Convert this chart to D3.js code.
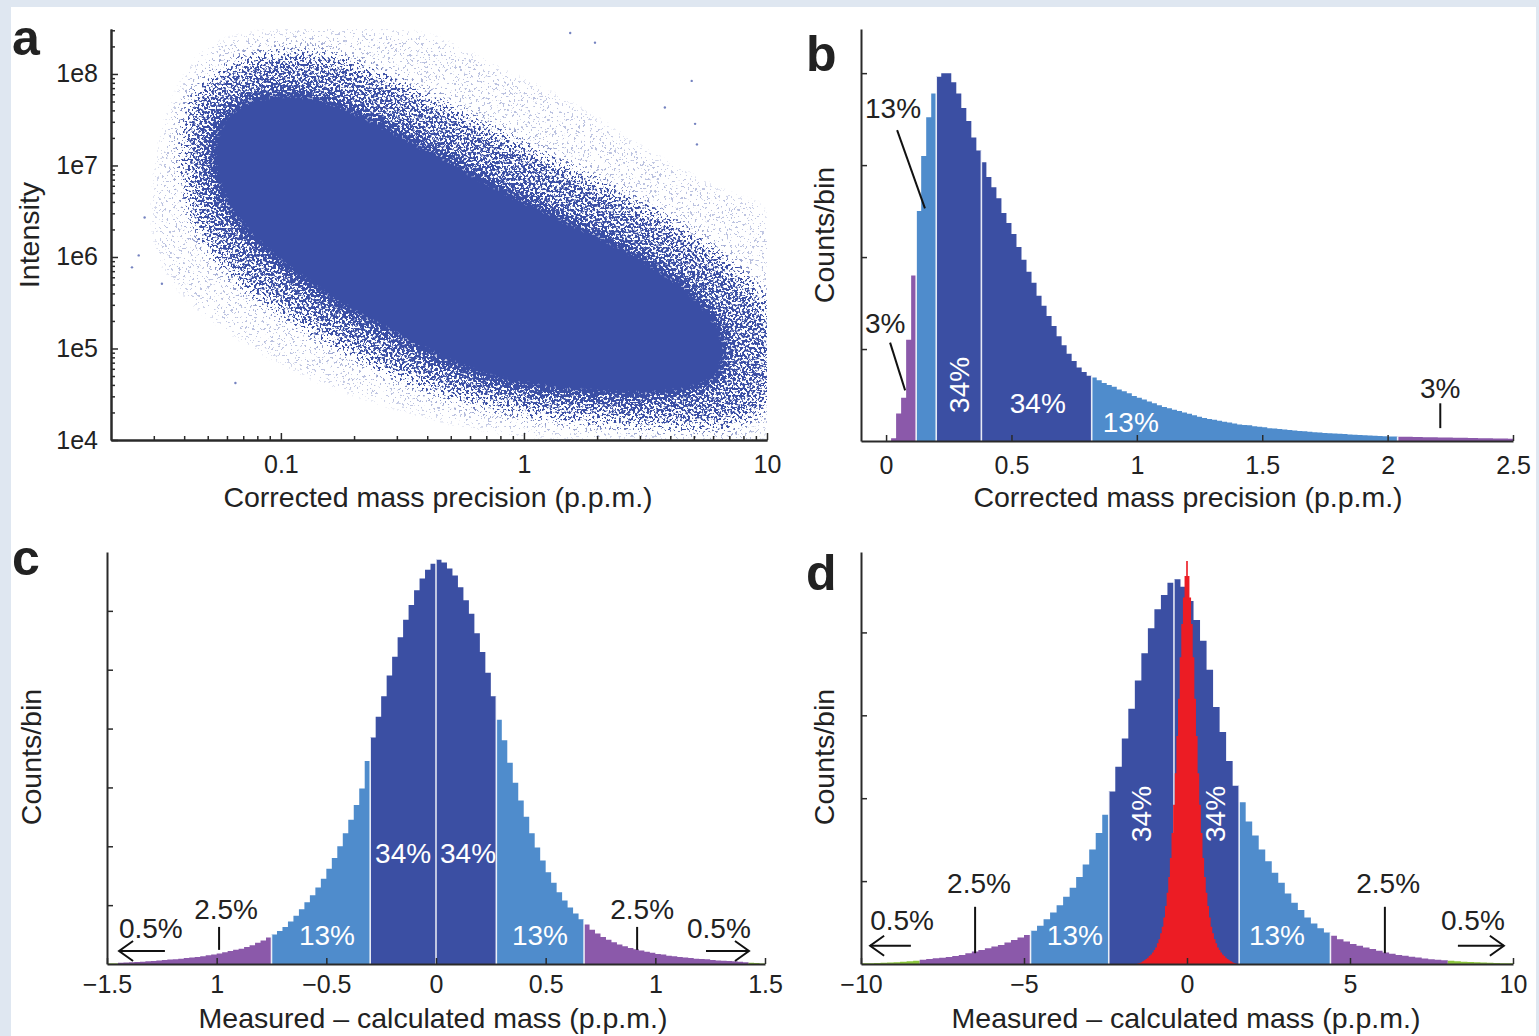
<!DOCTYPE html>
<html>
<head>
<meta charset="utf-8">
<script src="https://cdn.jsdelivr.net/npm/d3@7"></script>
<style>
  html, body { margin: 0; padding: 0; background: #dfe7f1; }
  svg { display: block; }
  text { font-family: "Liberation Sans", Arial, Helvetica, sans-serif; fill: #222; }
</style>
</head>
<body>
<svg id="fig" width="1539" height="1036"></svg>
<script>
// ---------------- Panel a: intensity vs corrected mass precision ----------------
// Density envelopes of the point cloud, as [precision (p.p.m.), intensity] vertices
const cloudOuter = [
  [0.0289, 1.18e6], [0.0289, 1.13e7], [0.0349, 6.5e7], [0.0464, 2.02e8], [0.0745, 3.3e8],
  [0.373, 3.3e8], [0.796, 1.39e8], [1.7, 5.1e7], [3.63, 1.45e7], [7.74, 5.3e6],
  [10, 4.1e6], [10, 8.9e3], [3.3, 8.9e3], [1.28, 8.9e3], [0.546, 1.22e4],
  [0.255, 2.12e4], [0.1197, 4.5e4], [0.0617, 1.23e5], [0.0384, 3.36e5]
];
const cloudMid = [
  [0.0403, 1.45e7], [0.0442, 5.1e7], [0.0589, 1.08e8], [0.0901, 1.57e8], [0.159, 1.46e8],
  [0.309, 7.4e7], [0.6, 3.08e7], [1.16, 1.28e7], [2.26, 5.3e6], [4.39, 1.95e6],
  [7.74, 6.3e5], [10, 2.6e5], [10, 2.73e4], [7.74, 1.65e4], [4.39, 1.46e4],
  [2.06, 1.65e4], [0.964, 2.12e4], [0.451, 3.5e4], [0.211, 8.4e4], [0.109, 2.3e5],
  [0.0617, 7.1e5], [0.0442, 2.83e6]
];
const cloudCore = [
  [0.052, 1.45e7], [0.0589, 3.48e7], [0.0782, 5.47e7], [0.1197, 6.05e7], [0.192, 4.15e7],
  [0.309, 2.22e7], [0.496, 1.13e7], [0.796, 5.7e6], [1.28, 3.05e6], [2.06, 1.71e6],
  [3.3, 8.7e5], [5.3, 3.36e5], [6.7, 1.23e5], [6.4, 5.1e4], [4.82, 3.5e4],
  [3.0, 3.1e4], [1.87, 3.25e4], [1.16, 3.7e4], [0.724, 4.7e4], [0.451, 7.8e4],
  [0.281, 1.5e5], [0.175, 2.96e5], [0.109, 7.1e5], [0.0745, 1.71e6], [0.0571, 4.7e6]
];
// Isolated measurements outside the main cloud
const cloudStrays = [
  [0.0244, 7.7e5], [0.0324, 5.1e5], [0.0275, 2.7e6], [0.065, 4.2e4], [4.9, 8.4e7],
  [3.8, 4.3e7], [5.06, 2.85e7], [5.15, 1.7e7], [1.96, 2.2e8], [1.55, 2.8e8],
  [0.138, 1.47e5], [0.026, 1.04e6]
];
const precTickValues = [0.1, 1, 10];
const precTickLabels = ["0.1", "1", "10"];
const intensityTickValues = [1e4, 1e5, 1e6, 1e7, 1e8];
const intensityTickLabels = ["1e4", "1e5", "1e6", "1e7", "1e8"];

// ---------------- Panel b: histogram of corrected mass precision ----------------
const precBinStart = 0.02, precBinWidth = 0.02;
const precCounts = [
  0.03, 0.3, 0.47, 1.1, 1.8, 2.5, 3.1, 3.52, 3.78, 3.96,
  4.0, 4.0, 3.9, 3.78, 3.62, 3.48, 3.3, 3.16, 3.03, 2.87,
  2.76, 2.64, 2.48, 2.37, 2.25, 2.11, 1.97, 1.84, 1.72, 1.58,
  1.47, 1.36, 1.25, 1.14, 1.04, 0.95, 0.87, 0.8, 0.75, 0.71,
  0.69, 0.66, 0.63, 0.61, 0.59, 0.56, 0.54, 0.52, 0.49, 0.47,
  0.45, 0.43, 0.41, 0.39, 0.37, 0.355, 0.34, 0.325, 0.31, 0.295,
  0.28, 0.265, 0.25, 0.24, 0.23, 0.22, 0.21, 0.2, 0.19, 0.18,
  0.175, 0.17, 0.16, 0.155, 0.15, 0.14, 0.135, 0.13, 0.125, 0.12,
  0.115, 0.11, 0.105, 0.1, 0.095, 0.092, 0.088, 0.085, 0.082, 0.078,
  0.075, 0.072, 0.069, 0.066, 0.063, 0.06, 0.058, 0.055, 0.053, 0.05,
  0.049, 0.047, 0.046, 0.045, 0.044, 0.043, 0.042, 0.041, 0.04, 0.039,
  0.038, 0.037, 0.036, 0.035, 0.034, 0.033, 0.032, 0.031, 0.03, 0.029,
  0.028, 0.027, 0.026, 0.025
];
const precBands = [0.02, 0.12, 0.2, 0.38, 0.82, 2.04, 2.5];
const precBandKinds = ["purple", "light", "dark", "dark", "light", "purple"];
const precDividers = [0.12, 0.2, 0.38, 0.82, 2.04];
const precHistTicks = [0, 0.5, 1, 1.5, 2, 2.5];
const precHistLabels = ["0", "0.5", "1", "1.5", "2", "2.5"];

// ---------------- Panel c: measured - calculated mass, recalibrated ----------------
const errBinStart = -1.5, errBinWidth = 0.025;
const errCounts = [
  0.01, 0.01, 0.02, 0.025, 0.03, 0.035, 0.04, 0.045, 0.05, 0.06,
  0.07, 0.075, 0.08, 0.09, 0.1, 0.11, 0.12, 0.13, 0.15, 0.16,
  0.18, 0.2, 0.22, 0.24, 0.26, 0.29, 0.32, 0.36, 0.4, 0.45,
  0.5, 0.56, 0.63, 0.72, 0.82, 0.93, 1.05, 1.17, 1.3, 1.45,
  1.62, 1.8, 2.0, 2.22, 2.45, 2.7, 2.98, 3.45, 3.85, 4.2,
  4.55, 4.9, 5.22, 5.55, 5.85, 6.1, 6.35, 6.55, 6.7, 6.8,
  6.87, 6.82, 6.72, 6.6, 6.4, 6.18, 5.95, 5.62, 5.3, 4.95,
  4.55, 4.15, 3.8, 3.42, 3.08, 2.78, 2.5, 2.22, 1.98, 1.76,
  1.56, 1.38, 1.22, 1.08, 0.96, 0.86, 0.76, 0.67, 0.58, 0.52,
  0.46, 0.41, 0.37, 0.33, 0.3, 0.27, 0.25, 0.23, 0.21, 0.19,
  0.17, 0.16, 0.14, 0.13, 0.12, 0.11, 0.1, 0.09, 0.085, 0.08,
  0.07, 0.06, 0.055, 0.05, 0.045, 0.04, 0.03, 0.02, 0.015, 0.01
];
const errBands = [-1.5, -1.45, -0.75, -0.3, 0, 0.275, 0.675, 1.425, 1.5];
const errBandKinds = ["green", "purple", "light", "dark", "dark", "light", "purple", "green"];
const errDividers = [-0.75, -0.3, 0, 0.275, 0.675];
const errTicks = [-1.5, -1, -0.5, 0, 0.5, 1, 1.5];
const errTickLabels = ["\u22121.5", "1", "\u22120.5", "0", "0.5", "1", "1.5"];

// ---------------- Panel d: measured - calculated mass, wide and narrow ----------------
const wideBinStart = -10, wideBinWidth = 0.2;
const wideCounts = [
  0.01, 0.01, 0.012, 0.015, 0.018, 0.022, 0.028, 0.034, 0.04, 0.05,
  0.06, 0.068, 0.076, 0.085, 0.095, 0.11, 0.13, 0.15, 0.17, 0.19,
  0.21, 0.23, 0.26, 0.29, 0.32, 0.35, 0.4, 0.46, 0.54, 0.62,
  0.71, 0.81, 0.92, 1.05, 1.2, 1.38, 1.58, 1.8, 2.08, 2.38,
  2.72, 3.08, 3.42, 3.75, 4.05, 4.28, 4.45, 4.6, 4.64, 4.55,
  4.38, 4.15, 3.9, 3.55, 3.1, 2.8, 2.45, 2.15, 1.95, 1.72,
  1.55, 1.38, 1.24, 1.1, 0.98, 0.85, 0.74, 0.65, 0.56, 0.49,
  0.43, 0.38, 0.34, 0.3, 0.27, 0.24, 0.22, 0.2, 0.18, 0.16,
  0.14, 0.125, 0.11, 0.1, 0.088, 0.077, 0.067, 0.058, 0.05, 0.044,
  0.038, 0.032, 0.027, 0.023, 0.02, 0.017, 0.014, 0.012, 0.01, 0.008
];
const wideBands = [-10, -8.2, -4.8, -2.4, -0.4, 1.6, 4.4, 8.0, 10];
const wideBandKinds = ["green", "purple", "light", "dark", "dark", "light", "purple", "green"];
const wideDividers = [-4.8, -2.4, -0.4, 1.6, 4.4];
const narrowBinStart = -1.525, narrowBinWidth = 0.05;
const narrowCounts = [
  0.005, 0.012, 0.022, 0.033, 0.045, 0.06, 0.075, 0.095, 0.115, 0.14,
  0.17, 0.2, 0.25, 0.3, 0.37, 0.45, 0.56, 0.7, 0.86, 1.05,
  1.28, 1.58, 1.92, 2.3, 2.75, 3.2, 3.7, 4.1, 4.42, 4.68,
  4.86,
  4.68, 4.42, 4.1, 3.7, 3.2, 2.75, 2.3, 1.92, 1.58, 1.28,
  1.05, 0.86, 0.7, 0.56, 0.45, 0.37, 0.3, 0.25, 0.2, 0.17,
  0.14, 0.115, 0.095, 0.075, 0.06, 0.045, 0.033, 0.022, 0.012, 0.005
];
const wideTicks = [-10, -5, 0, 5, 10];
const wideTickLabels = ["\u221210", "\u22125", "0", "5", "10"];

// Annotations, anchored in data units of each panel
const precNotes = [
  { text: "13%", x: -0.084, y: 3.51, anchor: "start", ink: "black" },
  { text: "3%", x: -0.084, y: 1.17, anchor: "start", ink: "black" },
  { text: "3%", x: 2.21, y: 0.47, anchor: "middle", ink: "black" },
  { text: "34%", x: 0.605, y: 0.30, anchor: "middle", ink: "white" },
  { text: "13%", x: 0.976, y: 0.10, anchor: "middle", ink: "white" },
  { text: "34%", x: 0.29, y: 0.61, anchor: "middle", ink: "white", upright: true }
];
const precLeaders = [
  [[0.044, 3.38], [0.155, 2.53]],
  [[0.016, 1.07], [0.076, 0.55]],
  [[2.21, 0.41], [2.21, 0.14]]
];
const errNotes = [
  { text: "0.5%", x: -1.30, y: 0.44, anchor: "middle", ink: "black" },
  { text: "2.5%", x: -0.957, y: 0.76, anchor: "middle", ink: "black" },
  { text: "13%", x: -0.497, y: 0.32, anchor: "middle", ink: "white" },
  { text: "34%", x: -0.15, y: 1.72, anchor: "middle", ink: "white" },
  { text: "34%", x: 0.146, y: 1.72, anchor: "middle", ink: "white" },
  { text: "13%", x: 0.474, y: 0.32, anchor: "middle", ink: "white" },
  { text: "2.5%", x: 0.94, y: 0.76, anchor: "middle", ink: "black" },
  { text: "0.5%", x: 1.29, y: 0.44, anchor: "middle", ink: "black" }
];
const errLeaders = [
  [[-0.989, 0.63], [-0.989, 0.24]],
  [[0.917, 0.63], [0.917, 0.24]]
];
const errArrows = [
  [[-1.236, 0.22], [-1.445, 0.22]],
  [[1.231, 0.22], [1.427, 0.22]]
];
const wideNotes = [
  { text: "0.5%", x: -8.74, y: 0.41, anchor: "middle", ink: "black" },
  { text: "2.5%", x: -6.38, y: 0.86, anchor: "middle", ink: "black" },
  { text: "13%", x: -3.44, y: 0.23, anchor: "middle", ink: "white" },
  { text: "34%", x: -1.41, y: 1.81, anchor: "middle", ink: "white", upright: true },
  { text: "34%", x: 0.86, y: 1.81, anchor: "middle", ink: "white", upright: true },
  { text: "13%", x: 2.76, y: 0.23, anchor: "middle", ink: "white" },
  { text: "2.5%", x: 6.17, y: 0.86, anchor: "middle", ink: "black" },
  { text: "0.5%", x: 8.77, y: 0.41, anchor: "middle", ink: "black" }
];
const wideLeaders = [
  [[-6.5, 0.69], [-6.5, 0.13]],
  [[6.07, 0.69], [6.07, 0.13]]
];
const wideArrows = [
  [[-8.47, 0.22], [-9.72, 0.22]],
  [[8.31, 0.22], [9.72, 0.22]]
];

// ---------------- drawing ----------------
const palette = {
  dark: "#3b4fa3", light: "#4f8ccc", purple: "#8b59aa", green: "#8cc63e",
  red: "#ec1c24", ink: "#3a4ea5", axis: "#2a2a2a"
};
const svg = d3.select("#fig");
svg.append("rect").attr("x", 0).attr("y", 0).attr("width", 1539).attr("height", 1036).attr("fill", "#dfe7f1");
svg.append("rect").attr("x", 11).attr("y", 7).attr("width", 1525).attr("height", 1029).attr("fill", "#ffffff");

const defs = svg.append("defs");

function styleAxis(g) {
  g.selectAll(".domain").attr("stroke", palette.axis).attr("stroke-width", 2);
  g.selectAll(".tick line").attr("stroke", palette.axis).attr("stroke-width", 1.5);
  g.selectAll(".tick text").attr("font-size", 25).attr("fill", "#222")
    .attr("font-family", "\"Liberation Sans\", Arial, sans-serif");
}

function panelLetter(ch, x, y) {
  svg.append("text").attr("x", x).attr("y", y).text(ch)
    .attr("font-size", 50).attr("font-weight", "bold").attr("fill", "#111");
}

function xTitle(text, cx, y) {
  svg.append("text").attr("x", cx).attr("y", y).attr("text-anchor", "middle")
    .attr("font-size", 28.5).text(text);
}
function yTitle(text, x, cy) {
  svg.append("text").attr("transform", `translate(${x},${cy}) rotate(-90)`)
    .attr("text-anchor", "middle").attr("font-size", 28.5).text(text);
}

// ---- panel a ----
const xA = d3.scaleLog().domain([0.02, 10]).range([111, 767]);
const yA = d3.scaleLog().domain([1e4, 3.1e8]).range([440, 29]);

defs.append("clipPath").attr("id", "clipA").append("rect")
  .attr("x", 111).attr("y", 29).attr("width", 656).attr("height", 411);

// grain: blurred density thresholded against contrast-stretched noise gives a stippled cloud
const speckle = defs.append("filter").attr("id", "speckle")
  .attr("filterUnits", "userSpaceOnUse")
  .attr("x", 111).attr("y", 29).attr("width", 656).attr("height", 411)
  .attr("color-interpolation-filters", "sRGB");
speckle.append("feGaussianBlur").attr("in", "SourceAlpha").attr("stdDeviation", 8).attr("result", "dens");
speckle.append("feTurbulence").attr("type", "fractalNoise").attr("baseFrequency", 0.42)
  .attr("numOctaves", 2).attr("seed", 7).attr("result", "noise");
speckle.append("feColorMatrix").attr("in", "noise").attr("type", "matrix")
  .attr("values", "0 0 0 0 0  0 0 0 0 0  0 0 0 0 0  3.2 0 0 0 -1.1").attr("result", "grain");
speckle.append("feComposite").attr("in", "dens").attr("in2", "grain").attr("operator", "arithmetic")
  .attr("k1", 0).attr("k2", 6.5).attr("k3", 4).attr("k4", -4.7).attr("result", "mask");
speckle.append("feFlood").attr("flood-color", palette.ink).attr("result", "tint");
speckle.append("feComposite").attr("in", "tint").attr("in2", "mask").attr("operator", "in");

const gA = svg.append("g").attr("clip-path", "url(#clipA)");
const cloud = gA.append("g").attr("filter", "url(#speckle)");
const line = d3.line().x(d => xA(d[0])).y(d => yA(d[1])).curve(d3.curveCatmullRomClosed);
cloud.append("path").attr("d", line(cloudOuter)).attr("fill", "#000").attr("fill-opacity", 0.16);
cloud.append("path").attr("d", line(cloudMid)).attr("fill", "#000").attr("fill-opacity", 0.42);
cloud.append("path").attr("d", line(cloudCore)).attr("fill", "#000");
gA.selectAll("circle.stray").data(cloudStrays).join("circle").attr("class", "stray")
  .attr("cx", d => xA(d[0])).attr("cy", d => yA(d[1])).attr("r", 1.2)
  .attr("fill", palette.ink).attr("fill-opacity", 0.7);

const minorPrec = [];
[0.01, 0.1, 1].forEach(dec => { for (let k = 2; k <= 9; k++) { const v = dec * k; if (v > 0.021 && v < 10) minorPrec.push(v); } });
const minorInt = [];
[1e4, 1e5, 1e6, 1e7, 1e8].forEach(dec => { for (let k = 2; k <= 9; k++) { const v = dec * k; if (v < 3.1e8) minorInt.push(v); } });

const axAxMinor = svg.append("g").attr("transform", "translate(0,440)")
  .call(d3.axisBottom(xA).tickValues(minorPrec).tickFormat("").tickSizeInner(-4).tickSizeOuter(0));
styleAxis(axAxMinor);
const axAx = svg.append("g").attr("transform", "translate(0,440)")
  .call(d3.axisBottom(xA).tickValues(precTickValues).tickFormat((d, i) => precTickLabels[i])
    .tickSizeInner(-7).tickSizeOuter(0).tickPadding(15));
styleAxis(axAx);
const ayAxMinor = svg.append("g").attr("transform", "translate(111,0)")
  .call(d3.axisLeft(yA).tickValues(minorInt).tickFormat("").tickSizeInner(-4).tickSizeOuter(0));
styleAxis(ayAxMinor);
const ayAx = svg.append("g").attr("transform", "translate(111,0)")
  .call(d3.axisLeft(yA).tickValues(intensityTickValues).tickFormat((d, i) => intensityTickLabels[i])
    .tickSizeInner(-7).tickSizeOuter(0).tickPadding(13));
styleAxis(ayAx);

panelLetter("a", 12, 55);
xTitle("Corrected mass precision (p.p.m.)", 438, 507);
yTitle("Intensity", 39, 235);

// ---- histogram helpers ----
function drawHistogram(g, x, y, start, width, counts, bands, kinds) {
  const bins = counts.map((v, i) => ({ x0: start + i * width, x1: start + (i + 1) * width, v }));
  kinds.forEach((kind, j) => {
    const lo = bands[j], hi = bands[j + 1];
    const sel = bins.filter(b => { const m = (b.x0 + b.x1) / 2; return m > lo && m < hi; });
    if (!sel.length) return;
    let p = `M${x(sel[0].x0)},${y(0)}`;
    sel.forEach(b => { p += `L${x(b.x0)},${y(b.v)}L${x(b.x1)},${y(b.v)}`; });
    p += `L${x(sel[sel.length - 1].x1)},${y(0)}Z`;
    g.append("path").attr("d", p).attr("fill", palette[kind]);
  });
  return bins;
}
function drawDividers(g, x, y, bins, dividers) {
  dividers.forEach(b => {
    const near = bins.filter(d => Math.abs(d.x0 - b) < 1e-6 || Math.abs(d.x1 - b) < 1e-6);
    const top = d3.max(near, d => d.v);
    g.append("line").attr("x1", x(b)).attr("x2", x(b)).attr("y1", y(0)).attr("y2", y(top))
      .attr("stroke", "#ffffff").attr("stroke-opacity", 0.85).attr("stroke-width", 1.6);
  });
}
function drawNotes(g, x, y, notes) {
  notes.forEach(n => {
    const t = g.append("text").text(n.text).attr("font-size", 28)
      .attr("text-anchor", n.anchor)
      .style("fill", n.ink === "white" ? "#ffffff" : "#222");
    if (n.upright) {
      t.attr("transform", `translate(${x(n.x)},${y(n.y)}) rotate(-90)`).attr("dy", "0.36em");
    } else {
      t.attr("x", x(n.x)).attr("y", y(n.y));
    }
  });
}
function drawLeaders(g, x, y, leaders) {
  leaders.forEach(l => {
    g.append("line").attr("x1", x(l[0][0])).attr("y1", y(l[0][1]))
      .attr("x2", x(l[1][0])).attr("y2", y(l[1][1]))
      .attr("stroke", "#111").attr("stroke-width", 2);
  });
}
function drawArrows(g, x, y, arrows) {
  arrows.forEach(a => {
    const x1 = x(a[0][0]), y1 = y(a[0][1]), x2 = x(a[1][0]), y2 = y(a[1][1]);
    const dir = Math.sign(x2 - x1);
    g.append("line").attr("x1", x1).attr("y1", y1).attr("x2", x2).attr("y2", y2)
      .attr("stroke", "#111").attr("stroke-width", 2);
    g.append("path").attr("d", `M${x2 - dir * 14},${y2 - 10}L${x2},${y2}L${x2 - dir * 14},${y2 + 10}`)
      .attr("fill", "none").attr("stroke", "#111").attr("stroke-width", 2);
  });
}
function histAxes(x, y, yPix, xPix, ticks, labels, yTicks) {
  const gx = svg.append("g").attr("transform", `translate(0,${yPix})`)
    .call(d3.axisBottom(x).tickValues(ticks).tickFormat((d, i) => labels[i])
      .tickSizeInner(-6).tickSizeOuter(0).tickPadding(yPix > 500 ? 11 : 15));
  styleAxis(gx);
  const gy = svg.append("g").attr("transform", `translate(${xPix},0)`)
    .call(d3.axisLeft(y).tickValues(yTicks).tickFormat("").tickSizeInner(-6).tickSizeOuter(0));
  styleAxis(gy);
}

// ---- panel b ----
const xB = d3.scaleLinear().domain([-0.1, 2.5]).range([861, 1513]);
const yB = d3.scaleLinear().domain([0, 4.48]).range([441, 29]);
const gB = svg.append("g");
const binsB = drawHistogram(gB, xB, yB, precBinStart, precBinWidth, precCounts, precBands, precBandKinds);
drawDividers(gB, xB, yB, binsB, precDividers);
drawNotes(gB, xB, yB, precNotes);
drawLeaders(gB, xB, yB, precLeaders);
histAxes(xB, yB, 441, 861, precHistTicks, precHistLabels, [1, 2, 3, 4]);
panelLetter("b", 806, 71);
xTitle("Corrected mass precision (p.p.m.)", 1188, 507);
yTitle("Counts/bin", 834, 235);

// ---- panel c ----
const xC = d3.scaleLinear().domain([-1.5, 1.5]).range([107, 765]);
const yC = d3.scaleLinear().domain([0, 7]).range([964, 552]);
const gC = svg.append("g");
const binsC = drawHistogram(gC, xC, yC, errBinStart, errBinWidth, errCounts, errBands, errBandKinds);
drawDividers(gC, xC, yC, binsC, errDividers);
drawNotes(gC, xC, yC, errNotes);
drawLeaders(gC, xC, yC, errLeaders);
drawArrows(gC, xC, yC, errArrows);
histAxes(xC, yC, 964, 107, errTicks, errTickLabels, [1, 2, 3, 4, 5, 6]);
panelLetter("c", 12, 575);
xTitle("Measured \u2013 calculated mass (p.p.m.)", 433, 1028);
yTitle("Counts/bin", 41, 757);

// ---- panel d ----
const xD = d3.scaleLinear().domain([-10, 10]).range([861, 1513]);
const yD = d3.scaleLinear().domain([0, 4.97]).range([964, 552]);
const gD = svg.append("g");
const binsD = drawHistogram(gD, xD, yD, wideBinStart, wideBinWidth, wideCounts, wideBands, wideBandKinds);
drawDividers(gD, xD, yD, binsD, wideDividers);
drawHistogram(gD, xD, yD, narrowBinStart, narrowBinWidth, narrowCounts,
  [narrowBinStart, narrowBinStart + narrowBinWidth * narrowCounts.length], ["red"]);
drawNotes(gD, xD, yD, wideNotes);
drawLeaders(gD, xD, yD, wideLeaders);
drawArrows(gD, xD, yD, wideArrows);
histAxes(xD, yD, 964, 861, wideTicks, wideTickLabels, [1, 2, 3, 4]);
panelLetter("d", 806, 590);
xTitle("Measured \u2013 calculated mass (p.p.m.)", 1186, 1028);
yTitle("Counts/bin", 834, 757);
</script>
</body>
</html>
